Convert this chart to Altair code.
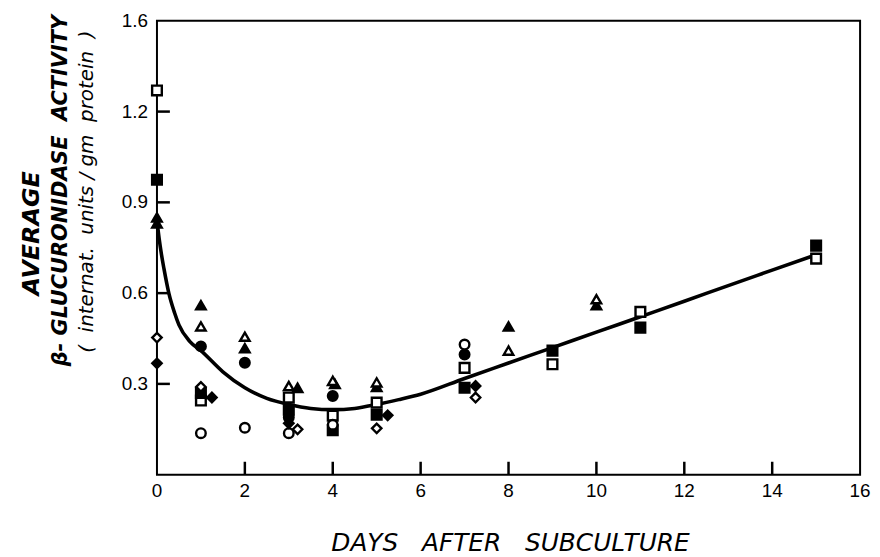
import altair as alt
import pandas as pd

# ---- data ----
open_square_days = [0, 1, 3, 4, 5, 7, 9, 11, 15]
open_square_vals = [1.27, 0.245, 0.255, 0.195, 0.238, 0.353, 0.365, 0.538, 0.714]
filled_square_days = [0, 1, 3, 4, 5, 7, 9, 11, 15]
filled_square_vals = [0.975, 0.27, 0.215, 0.147, 0.198, 0.287, 0.41, 0.486, 0.757]
filled_triangle_days = [0, 0, 1, 2, 3.2, 4.05, 5, 8, 10]
filled_triangle_vals = [0.85, 0.83, 0.56, 0.418, 0.287, 0.30, 0.29, 0.49, 0.56]
open_triangle_days = [1, 2, 3, 4, 5, 8, 10]
open_triangle_vals = [0.49, 0.456, 0.293, 0.31, 0.305, 0.41, 0.58]
filled_circle_days = [1, 2, 3, 4, 7]
filled_circle_vals = [0.424, 0.37, 0.19, 0.26, 0.397]
open_circle_days = [1, 2, 3, 4, 7]
open_circle_vals = [0.137, 0.155, 0.137, 0.165, 0.43]
filled_diamond_days = [0, 1.25, 3, 5.25, 7.25]
filled_diamond_vals = [0.368, 0.255, 0.17, 0.196, 0.293]
open_diamond_days = [0, 1, 3.2, 5, 7.25]
open_diamond_vals = [0.453, 0.29, 0.15, 0.153, 0.255]

curve_days = [0.0, 0.05, 0.1, 0.16, 0.27, 0.4, 0.5, 0.75, 1.0, 1.5, 2.0, 2.5, 3.0, 3.5,
              4.0, 4.5, 5.0, 5.5, 6.0, 7.0, 8.0, 9.0, 10.0, 11.0, 12.0, 13.0, 14.0, 15.0]
curve_vals = [0.84, 0.78, 0.73, 0.68, 0.60, 0.535, 0.495, 0.44, 0.41, 0.34, 0.287, 0.252,
              0.232, 0.219, 0.215, 0.219, 0.232, 0.248, 0.266, 0.318, 0.369, 0.42, 0.471,
              0.522, 0.573, 0.625, 0.676, 0.727]

x_ticks = [2, 4, 6, 8, 10, 12, 14]
x_labels = [0, 2, 4, 6, 8, 10, 12, 14, 16]
y_ticks = [0.3, 0.6, 0.9, 1.2]
y_label_pos = [0.3, 0.6, 0.9, 1.2, 1.5]
y_label_text = ["0.3", "0.6", "0.9", "1.2", "1.6"]

NB = "\u00a0"
x_title = f"DAYS{NB*3}AFTER{NB*3}SUBCULTURE"
y_title_lines = ["AVERAGE",
                 f"\u03b2-{NB}GLUCURONIDASE{NB*2}ACTIVITY",
                 f"({NB*2}internat.{NB*2}units{NB}/{NB}gm{NB*2}protein{NB*2})"]

# ---- build tables ----
series = [
    ("square", "open", open_square_days, open_square_vals),
    ("square", "filled", filled_square_days, filled_square_vals),
    ("triangle", "filled", filled_triangle_days, filled_triangle_vals),
    ("triangle", "open", open_triangle_days, open_triangle_vals),
    ("circle", "filled", filled_circle_days, filled_circle_vals),
    ("circle", "open", open_circle_days, open_circle_vals),
    ("diamond", "filled", filled_diamond_days, filled_diamond_vals),
    ("diamond", "open", open_diamond_days, open_diamond_vals),
]
rows = []
for shp, fill, ds, vs in series:
    for d, v in zip(ds, vs):
        rows.append({"day": d, "val": v, "shape": shp, "fill": fill})
pts = pd.DataFrame(rows)
curve = pd.DataFrame({"day": curve_days, "val": curve_vals})

W, H = 708, 457
TL = 13  # tick length in pixels
XD, YD = [0, 16], [0, 1.5]
xs = alt.Scale(domain=XD, nice=False, zero=False)
ys = alt.Scale(domain=YD, nice=False, zero=False)

# tick segments expressed in data units derived from the scale geometry
dx = TL * (XD[1] - XD[0]) / W
dy = TL * (YD[1] - YD[0]) / H
xtick_df = pd.DataFrame({"a": x_ticks, "b0": [YD[0]] * len(x_ticks),
                         "b1": [YD[0] + dy] * len(x_ticks)})
ytick_df = pd.DataFrame({"a": y_ticks, "b0": [XD[0]] * len(y_ticks),
                         "b1": [XD[0] + dx] * len(y_ticks)})
xlab_df = pd.DataFrame({"v": x_labels, "label": [str(v) for v in x_labels]})
ylab_df = pd.DataFrame({"v": y_label_pos, "label": y_label_text})

line = alt.Chart(curve).mark_line(color="black", strokeWidth=3.6,
                                  interpolate="monotone").encode(
    x=alt.X("day:Q", scale=xs, axis=None), y=alt.Y("val:Q", scale=ys, axis=None))

points = alt.Chart(pts).mark_point(filled=True, stroke="black", strokeWidth=2.4,
                                   opacity=1).encode(
    x=alt.X("day:Q", scale=xs, axis=None),
    y=alt.Y("val:Q", scale=ys, axis=None),
    shape=alt.Shape("shape:N", scale=alt.Scale(
        domain=["square", "circle", "triangle", "diamond"],
        range=["square", "circle", "triangle-up", "diamond"]),
        legend=None),
    size=alt.Size("shape:N", scale=alt.Scale(domain=["square", "circle", "triangle", "diamond"],
                                             range=[95, 90, 110, 150]),
                  legend=None),
    fill=alt.Fill("fill:N", scale=alt.Scale(domain=["filled", "open"], range=["black", "white"]),
                  legend=None),
)

xlabels = alt.Chart(xlab_df).mark_text(
    font="Liberation Sans", fontSize=19, color="black", align="center",
    baseline="middle").encode(
    x=alt.X("v:Q", scale=xs, axis=None), y=alt.value(H + 16), text="label:N")
ylabels = alt.Chart(ylab_df).mark_text(
    font="Liberation Sans", fontSize=19, color="black", align="right",
    baseline="middle").encode(
    y=alt.Y("v:Q", scale=ys, axis=None), x=alt.value(-9), text="label:N")

xtitle = alt.Chart(pd.DataFrame({"text": [x_title]})).mark_text(
    font="DejaVu Sans", fontStyle="italic", fontSize=25, color="black",
    align="center", baseline="middle").encode(
    text="text:N", x=alt.value(W / 2 + 2), y=alt.value(H + 69))

tdf = pd.DataFrame({
    "text": y_title_lines,
    "xp": [-126, -97, -70],
    "yp": [214, 171, 172],
    "size": [24, 21, 20],
    "weight": ["bold", "bold", "normal"],
})
titles = []
for i in range(3):
    titles.append(alt.Chart(tdf.iloc[[i]]).mark_text(
        angle=270, font="DejaVu Sans", fontStyle="italic",
        fontWeight=tdf["weight"][i], fontSize=int(tdf["size"][i]), color="black",
        align="center", baseline="middle").encode(
        text="text:N", x=alt.value(float(tdf["xp"][i])), y=alt.value(float(tdf["yp"][i]))))

xt = alt.Chart(xtick_df).mark_rule(stroke="black", strokeWidth=2.5, opacity=1).encode(
    x=alt.X("a:Q", scale=xs, axis=None),
    y=alt.Y("b0:Q", scale=ys, axis=None), y2="b1:Q")
yt = alt.Chart(ytick_df).mark_rule(stroke="black", strokeWidth=2.5, opacity=1).encode(
    y=alt.Y("a:Q", scale=ys, axis=None),
    x=alt.X("b0:Q", scale=xs, axis=None), x2="b1:Q")

chart = alt.layer(line, points, xlabels, ylabels, xtitle, *titles, xt, yt).properties(
    width=W, height=H,
    autosize=alt.AutoSizeParams(type="none"),
    padding={"left": 150, "top": 11, "right": 12, "bottom": 81},
    background="white",
).configure_view(stroke="black", strokeWidth=2)

chart.save("out.html", embed_options={"renderer": "svg", "actions": False})
